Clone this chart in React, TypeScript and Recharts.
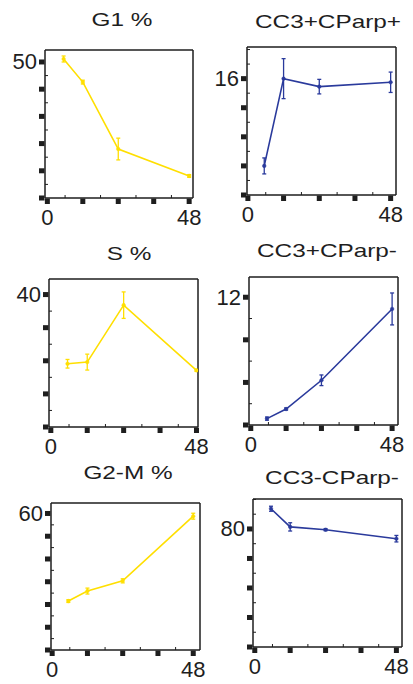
import React from 'react';
import { LineChart, Line, XAxis, YAxis, ErrorBar } from 'recharts';

// sampling times (h)
const hours = [5.5, 12, 24, 48];

// cell cycle phases (%), mean and error
const g1Pct = [51.1, 42.6, 18.0, 8.1];
const g1Err = [1.1, 0.7, 4.0, 0.5];
const sPct = [19.1, 19.6, 36.8, 17.1];
const sErr = [1.3, 2.4, 4.0, 0.3];
const g2mPct = [21.5, 25.9, 30.4, 58.8];
const g2mErr = [0.6, 1.3, 0.9, 1.3];

// apoptosis markers (%)
const cc3PosParpPos = [4.0, 16.0, 14.9, 15.5];
const cc3PosParpPosErr = [1.1, 2.75, 1.0, 1.4];
const cc3PosParpNeg = [0.6, 1.5, 4.2, 10.9];
const cc3PosParpNegErr = [0.15, 0.1, 0.5, 1.5];
const cc3NegParpNeg = [93.7, 81.4, 79.5, 73.4];
const cc3NegParpNegErr = [1.7, 2.8, 0.7, 2.2];

// axis ticks
const xMajor = [0, 12, 24, 36, 48];
const xMinor = [6, 18, 30, 42];
const xTop = [0, 6, 12, 18, 24, 30, 36, 42, 48];
const xLabels = [0, 48];

const YELLOW = '#ffdf00';
const BLUE = '#2a3a9c';
const INK = '#1e1e1e';
const FONT = '"Liberation Sans", Arial, Helvetica, sans-serif';

const steps = (max: number, step: number) => {
  const out: number[] = [];
  for (let v = 0; v <= max + 1e-9; v += step) out.push(+v.toFixed(3));
  return out;
};

const panels = [
  {
    title: 'G1 %', titleX: 122, titleTop: 10, values: g1Pct, errors: g1Err, color: YELLOW,
    box: { l: 45, t: 50, w: 148, h: 148 }, xDomain: [-0.8, 49.3], yDomain: [0, 54.4],
    yMajor: steps(50, 10), yHalf: 5, yLabel: 50,
  },
  {
    title: 'CC3+CParp+', titleX: 328, titleTop: 12, values: cc3PosParpPos, errors: cc3PosParpPosErr, color: BLUE,
    box: { l: 247, t: 47, w: 149, h: 148 }, xDomain: [-0.3, 49.8], yDomain: [0, 20.35],
    yMajor: steps(16, 4), yHalf: 2, yLabel: 16,
  },
  {
    title: 'S %', titleX: 129, titleTop: 244, values: sPct, errors: sErr, color: YELLOW,
    box: { l: 49, t: 279, w: 149, h: 148 }, xDomain: [-0.6, 48.5], yDomain: [0, 44.7],
    yMajor: steps(40, 10), yHalf: 5, yLabel: 40,
  },
  {
    title: 'CC3+CParp-', titleX: 327, titleTop: 241, values: cc3PosParpNeg, errors: cc3PosParpNegErr, color: BLUE,
    box: { l: 249, t: 277, w: 149, h: 148 }, xDomain: [-0.6, 50], yDomain: [0, 13.9],
    yMajor: steps(12, 4), yHalf: 2, yLabel: 12,
  },
  {
    title: 'G2-M %', titleX: 128, titleTop: 463, values: g2mPct, errors: g2mErr, color: YELLOW,
    box: { l: 51, t: 503, w: 149, h: 147 }, xDomain: [-0.4, 50.3], yDomain: [0, 64.6],
    yMajor: steps(60, 10), yHalf: 5, yLabel: 60,
  },
  {
    title: 'CC3-CParp-', titleX: 332, titleTop: 468, values: cc3NegParpNeg, errors: cc3NegParpNegErr, color: BLUE,
    box: { l: 253, t: 499, w: 149, h: 148 }, xDomain: [-0.6, 49.9], yDomain: [0, 100.3],
    yMajor: steps(80, 20), yHalf: 10, yLabel: 80,
  },
];

const BottomTick = (props: any) => {
  const { x, y, payload } = props;
  const v = payload.value;
  if (!xMajor.includes(v)) {
    return <line x1={x} x2={x} y1={y} y2={y - 3} stroke={INK} strokeWidth={1} />;
  }
  return (
    <g>
      <rect x={x - 2.5} y={y + 0.5} width={5} height={5.5} fill={INK} />
      {xLabels.includes(v) && (
        <text x={x} y={y + 27} textAnchor="middle" fontSize={22} fontFamily={FONT} fill={INK}>
          {v}
        </text>
      )}
    </g>
  );
};

const LeftTick = (props: any) => {
  const { x, y, payload, majors, label } = props;
  const v = payload.value;
  if (!majors.includes(v)) {
    return <line x1={x} x2={x + 3} y1={y} y2={y} stroke={INK} strokeWidth={1} />;
  }
  return (
    <g>
      <rect x={x - 6} y={y - 2.5} width={5.5} height={5} fill={INK} />
      {v === label && (
        <text x={x - 8} y={y} dy={7.5} textAnchor="end" fontSize={22} fontFamily={FONT} fill={INK}>
          {v}
        </text>
      )}
    </g>
  );
};

const Panel = ({ p }: { p: any }) => {
  const data = hours.map((h, i) => ({ h, v: p.values[i], e: p.errors[i] }));
  const ml = 45;
  const mt = 10;
  const mr = 10;
  const xh = 35;
  const yTop = p.yDomain[1];
  const leftTicks = steps(yTop, p.yHalf);
  const axisLine = { stroke: INK, strokeWidth: 1.5 };

  return (
    <div style={{ position: 'absolute', left: p.box.l - ml, top: p.box.t - mt }}>
      <LineChart
        width={p.box.w + ml + mr}
        height={p.box.h + mt + xh}
        data={data}
        margin={{ top: mt, right: mr, bottom: 0, left: 0 }}
      >
        <XAxis
          dataKey="h"
          type="number"
          domain={p.xDomain}
          allowDataOverflow
          ticks={[...xMajor, ...xMinor]}
          interval={0}
          height={xh}
          tickSize={0}
          tickMargin={0}
          tickLine={false}
          axisLine={axisLine}
          tick={(t: any) => <BottomTick {...t} />}
        />
        <XAxis
          xAxisId="top"
          orientation="top"
          mirror
          type="number"
          domain={p.xDomain}
          allowDataOverflow
          ticks={xTop}
          interval={0}
          height={10}
          tickSize={3}
          tick={false}
          tickLine={{ stroke: INK, strokeWidth: 1 }}
          axisLine={axisLine}
        />
        <YAxis
          type="number"
          domain={p.yDomain}
          allowDataOverflow
          ticks={leftTicks}
          interval={0}
          width={ml}
          tickSize={0}
          tickMargin={0}
          tickLine={false}
          axisLine={axisLine}
          tick={(t: any) => <LeftTick {...t} majors={p.yMajor} label={p.yLabel} />}
        />
        <YAxis
          yAxisId="right"
          orientation="right"
          mirror
          type="number"
          domain={p.yDomain}
          allowDataOverflow
          ticks={leftTicks}
          interval={0}
          width={10}
          tickSize={3}
          tick={false}
          tickLine={{ stroke: INK, strokeWidth: 1 }}
          axisLine={axisLine}
        />
        <Line
          type="linear"
          dataKey="v"
          stroke={p.color}
          strokeWidth={1.6}
          dot={{ r: 1.8, fill: p.color, stroke: p.color, strokeWidth: 0.5 }}
          isAnimationActive={false}
        >
          <ErrorBar dataKey="e" width={2} strokeWidth={1.3} stroke={p.color} direction="y" isAnimationActive={false} />
        </Line>
      </LineChart>
    </div>
  );
}

export default function App() {
  return (
    <div style={{ position: 'absolute', left: 0, top: 0, width: 413, height: 684, background: '#fff', fontFamily: FONT }}>
      {panels.map((p) => (
        <React.Fragment key={p.title}>
          <div
            style={{
              position: 'absolute',
              left: p.titleX,
              top: p.titleTop,
              fontSize: 19,
              lineHeight: '19px',
              color: INK,
              whiteSpace: 'nowrap',
              transform: 'translateX(-50%) scaleX(1.28)',
            }}
          >
            {p.title}
          </div>
          <Panel p={p} />
        </React.Fragment>
      ))}
    </div>
  );
}
